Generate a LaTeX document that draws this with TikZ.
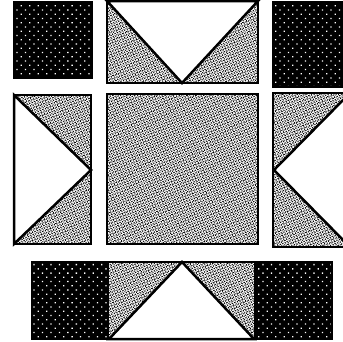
\documentclass[tikz,border=0pt]{standalone}
\usetikzlibrary{patterns.meta}

\tikzset{
  piece/.style={draw=black, line width=2.5pt, line join=miter},
  darkpiece/.style={piece, preaction={fill=black},
    pattern={Dots[distance=6pt, angle=45, radius=0.9pt]}, pattern color=white},
  speckpiece/.style={piece, preaction={fill=white},
    preaction={pattern={Dots[distance=2.6pt, angle=20, radius=0.7pt]}, pattern color=black},
    pattern={Dots[distance=2pt, angle=55, radius=0.6pt]}, pattern color=black},
  whitepiece/.style={piece, fill=white},
}

\begin{document}
\begin{tikzpicture}[x=1pt, y=-1pt]

% Riquadro (pixel del riferimento)
\clip (0,0) rectangle (343,341);
\useasboundingbox (0,0) rectangle (343,341);

% Riga superiore
\path[darkpiece] (14,2) rectangle (92,78);
\path[speckpiece] (107,1) rectangle (258,83);
\path[whitepiece] (107,1) -- (258,1) -- (182,83) -- cycle;
\path[darkpiece] (273,2) rectangle (352,87);

% Riga centrale
\path[speckpiece] (14,95) rectangle (91,244);
\path[whitepiece] (14,95) -- (91,170) -- (14,244) -- cycle;
\path[speckpiece] (107,94) rectangle (258,244);
\path[speckpiece] (273,93) rectangle (350,247);
\path[whitepiece] (350,93) -- (274,170) -- (350,247) -- cycle;

% Striscia inferiore
\path[darkpiece] (32,262) rectangle (108,339);
\path[speckpiece] (108,262) rectangle (255,339);
\path[whitepiece] (109,339) -- (182,262) -- (254,339) -- cycle;
\path[darkpiece] (255,262) rectangle (332,339);

\end{tikzpicture}
\end{document}
